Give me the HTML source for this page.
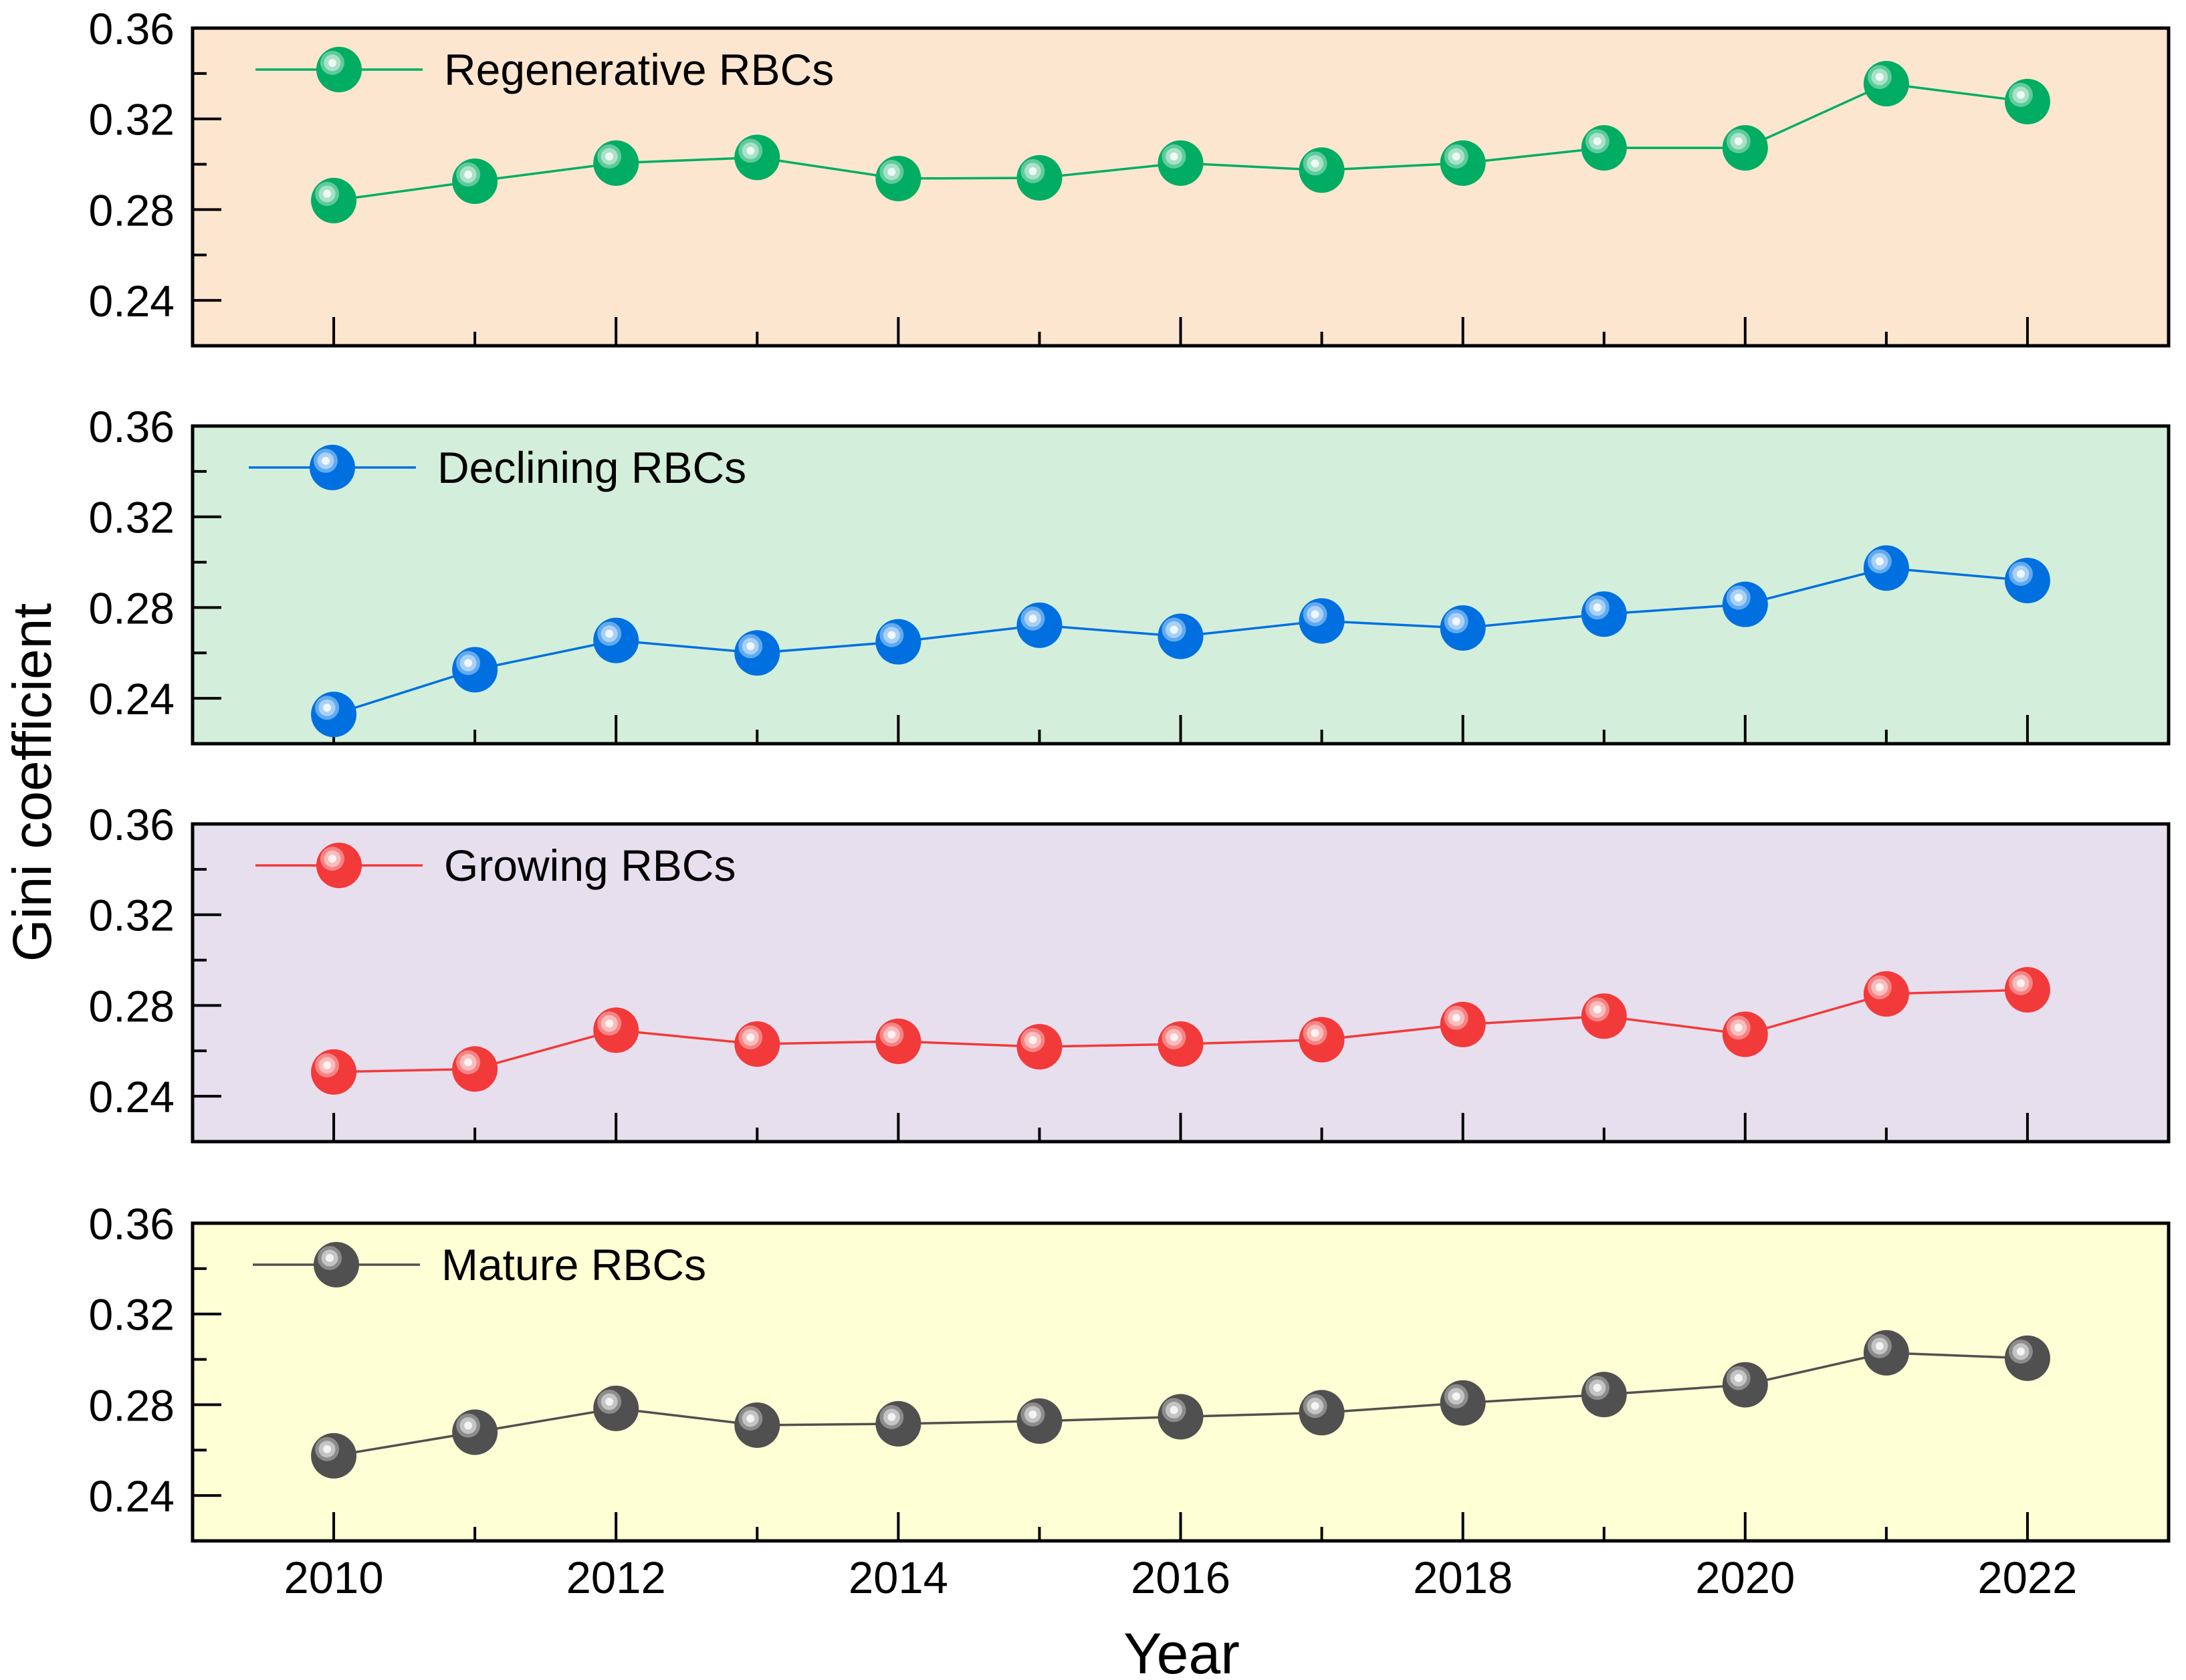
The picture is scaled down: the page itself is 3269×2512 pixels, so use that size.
<!DOCTYPE html>
<html><head><meta charset="utf-8"><style>
html,body{margin:0;padding:0;background:#fff;}
svg{display:block;font-family:"Liberation Sans",Arial,sans-serif;}
</style></head><body>
<svg id="chart" width="3269" height="2512" viewBox="0 0 3269 2512" xmlns="http://www.w3.org/2000/svg">
<text x="0" y="0" transform="translate(76,1170) rotate(-90)" font-size="82" text-anchor="middle">Gini coefficient</text>
<text x="1767" y="2502" font-size="86" text-anchor="middle">Year</text>
</svg>
<script>
const years = [2010,2011,2012,2013,2014,2015,2016,2017,2018,2019,2020,2021,2022];
const regenerative = [0.284,0.2925,0.3005,0.303,0.2937,0.294,0.3005,0.2974,0.3005,0.3072,0.3072,0.3355,0.3276];
const declining = [0.2329,0.2526,0.2655,0.260,0.2649,0.2722,0.2673,0.2741,0.2710,0.2771,0.2814,0.2974,0.2919];
const growing = [0.2507,0.2520,0.2691,0.263,0.2642,0.2618,0.263,0.2649,0.2716,0.2753,0.2673,0.2851,0.2869];
const mature = [0.2575,0.2679,0.2784,0.271,0.2716,0.2728,0.2747,0.2765,0.2808,0.2845,0.2888,0.3029,0.3005];
const seriesNames = ["Regenerative RBCs","Declining RBCs","Growing RBCs","Mature RBCs"];
const yTicks = [0.24,0.28,0.32,0.36];
const yTickLabels = ["0.24","0.28","0.32","0.36"];
const xTickLabels = ["2010","2012","2014","2016","2018","2020","2022"];

const NS="http://www.w3.org/2000/svg";
const svg=document.getElementById('chart');
const X0=288,X1=3243,XMIN=2009,XMAX=2023,YMIN=0.22,YMAX=0.36,PH=475;
const tops=[42,637,1232,1829];
const bgs=["#fde6d0","#d3efdb","#e7dfee","#ffffd5"];
const cols=[
 {m:"#00ad63",mid:"#5fcb9c",light:"#a8e2c8",hi:"#effaf4"},
 {m:"#0070e0",mid:"#62aaf0",light:"#a9d1f8",hi:"#f0f8ff"},
 {m:"#f23a3a",mid:"#f78484",light:"#fbbcbc",hi:"#fff2f2"},
 {m:"#505050",mid:"#8c8c8c",light:"#c4c4c4",hi:"#f4f4f4"}];
const dataSets=[regenerative,declining,growing,mature];
const legX=[507,497,507,503];
function xs(v){return X0+(v-XMIN)/(XMAX-XMIN)*(X1-X0);}
function ys(v,t){return t+(YMAX-v)/(YMAX-YMIN)*PH;}
function el(tag,attrs,parent){const e=document.createElementNS(NS,tag);for(const k in attrs)e.setAttribute(k,attrs[k]);(parent||svg).appendChild(e);return e;}
function marker(cx,cy,c,g){
  el('circle',{cx:cx,cy:cy,r:34,fill:c.m},g);
  el('circle',{cx:cx-10,cy:cy-10,r:18,fill:c.mid},g);
  el('circle',{cx:cx-10,cy:cy-10,r:12.5,fill:c.light},g);
  el('circle',{cx:cx-10,cy:cy-10,r:6,fill:c.hi},g);
}
for(let p=0;p<4;p++){
  const t=tops[p], b=t+PH;
  const g=el('g',{});
  
  
  const bg=el('rect',{x:X0,y:t,width:X1-X0,height:PH,fill:bgs[p]},g);
  
  
  for(let v=0.24;v<=0.3601;v+=0.02){
    const major=Math.abs(((v-0.24)/0.04)-Math.round((v-0.24)/0.04))<1e-6;
    const y=ys(v,t);
    const tk=el('line',{x1:X0,x2:X0+(major?43:21),y1:y,y2:y,stroke:"#000","stroke-width":4},g);
    
    
  }
  yTicks.forEach((v,i)=>{
    const tx=el('text',{x:261,y:ys(v,t)+24,"font-size":66,"text-anchor":"end"},g);
    tx.textContent=yTickLabels[i];
    
    
  });
  years.forEach((yr,i)=>{
    const x=xs(yr);const major=(yr%2===0);
    const tk=el('line',{x1:x,x2:x,y1:b,y2:b-(major?43:21),stroke:"#000","stroke-width":4},g);
    
    
  });
  const fr=el('rect',{x:X0,y:t,width:X1-X0,height:PH,fill:"none",stroke:"#000","stroke-width":5},g);
  
  
  const d=dataSets[p], c=cols[p];
  const pts=years.map((yr,i)=>xs(yr)+","+ys(d[i],t)).join(" ");
  const ln=el('polyline',{points:pts,fill:"none",stroke:c.m,"stroke-width":3.5},g);
  
  
  years.forEach((yr,i)=>{
    const mg=el('g',{},g);
    
    
    marker(xs(yr),ys(d[i],t),c,mg);
  });
  const lg=el('g',{},g);
  
  
  const ly=t+62, lx=legX[p];
  el('line',{x1:lx-125,x2:lx+125,y1:ly,y2:ly,stroke:c.m,"stroke-width":3.5},lg);
  marker(lx,ly,c,lg);
  const lt=el('text',{x:lx+157,y:ly+23,"font-size":66},lg);
  lt.textContent=seriesNames[p];
  if(p===3){
    xTickLabels.forEach(s=>{
      const tx=el('text',{x:xs(+s),y:2382,"font-size":67,"text-anchor":"middle"});
      tx.textContent=s;
      
      
    });
  }
}
</script>
</body></html>
